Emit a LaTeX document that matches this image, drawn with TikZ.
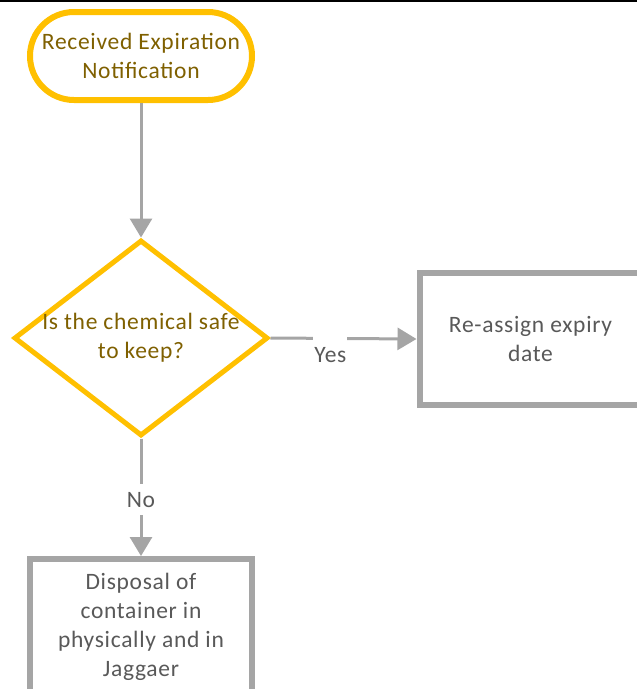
\documentclass[tikz,border=0pt]{standalone}
\usepackage{fontspec}
\setmainfont{Carlito}[LetterSpace=3]
\usepackage{tikz}
\usetikzlibrary{arrows.meta,positioning,shapes.geometric}
\definecolor{Gold}{HTML}{FFC000}
\definecolor{GoldInk}{HTML}{7F6000}
\definecolor{Grey}{HTML}{A5A5A5}
\definecolor{GreyInk}{HTML}{595959}
\tikzset{
  chart/.style={align=center,fill=white,font=\fontsize{23.5}{29}\selectfont},
  terminal/.style={chart,draw=Gold,line width=6pt,rounded corners=44pt,minimum width=222pt,minimum height=88pt,text=GoldInk},
  decision/.style={chart,diamond,draw=Gold,line width=5pt,shape aspect=1.3,inner sep=-6pt,minimum width=254pt,minimum height=196pt,text=GoldInk},
  process/.style={chart,draw=Grey,line width=6pt,minimum width=222pt,minimum height=132pt,text=GreyInk},
  arrow/.style={-{Triangle[length=19pt,width=22pt]},line width=3pt,draw=Grey},
  branch/.style={fill=white,text=GreyInk,inner xsep=1pt,inner ysep=8pt,font=\fontsize{23.5}{29}\selectfont}
}

\begin{document}
\begin{tikzpicture}[x=1pt,y=-1pt]
  \clip (0,0) rectangle (637,689);
  \fill[black] (0,0) rectangle (637,2);
  \node[terminal] (notice) at (141,56) {Received Expiration\\Notification};
  \node[decision] (safe) at (141,338) {Is the chemical safe\\to keep?};
  \node[process] (reassign) at (530.5,339) {Re-assign expiry\\date};
  \node[process,minimum height=136pt] (dispose) at (141,627) {Disposal of\\container in\\physically and in\\Jaggaer};
  \draw[arrow] (notice.south)--(safe.north);
  \draw[arrow] (safe.east)--(reassign.west) node[branch,pos=0.41,anchor=north,yshift=5pt,inner ysep=13pt] {Yes};
  \draw[arrow] (safe.south)--(dispose.north) node[branch,pos=0.52] {No};
\end{tikzpicture}
\end{document}
